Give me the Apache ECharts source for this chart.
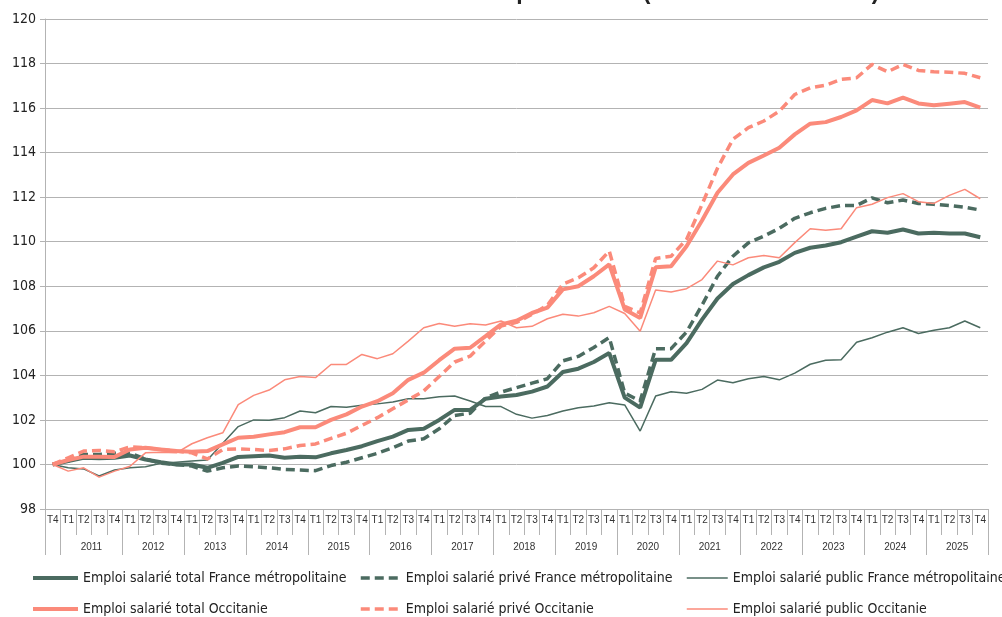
<!DOCTYPE html>
<html><head><meta charset="utf-8">
<script src="https://cdn.jsdelivr.net/npm/echarts@6/dist/echarts.min.js"></script>
<style>html,body{margin:0;padding:0;background:#fff}#c{width:1002px;height:617px}</style>
</head><body><div id="c"></div>
<script>
var titleText = "Évolution trimestrielle de l'emploi salarié (base 100 au T4 2010)";
var quarterLabels = ['T4'];
var yearOfCategory = ['2010'];
var years = ['2011','2012','2013','2014','2015','2016','2017','2018','2019','2020','2021','2022','2023','2024','2025'];
years.forEach(function(y){ ['T1','T2','T3','T4'].forEach(function(q){ quarterLabels.push(q); yearOfCategory.push(y); }); });
var categories = quarterLabels.map(function(q,i){ return q + ' ' + yearOfCategory[i]; });

var seriesNames = [
  'Emploi salarié total France métropolitaine',
  'Emploi salarié privé France métropolitaine',
  'Emploi salarié public France métropolitaine',
  'Emploi salarié total Occitanie',
  'Emploi salarié privé Occitanie',
  'Emploi salarié public Occitanie'
];

var totalFrance = [100,100.15,100.3,100.28,100.3,100.4,100.22,100.1,100.0,100.0,99.85,100.07,100.34,100.37,100.4,100.3,100.35,100.32,100.5,100.65,100.82,101.05,101.25,101.55,101.6,102.0,102.45,102.45,102.95,103.05,103.12,103.27,103.5,104.15,104.3,104.6,105.0,103.0,102.55,104.7,104.7,105.45,106.5,107.45,108.1,108.5,108.85,109.1,109.5,109.73,109.83,109.98,110.23,110.47,110.4,110.55,110.37,110.4,110.37,110.37,110.2];
var priveFrance = [100,100.15,100.45,100.45,100.5,100.5,100.25,100.05,100.0,99.93,99.7,99.85,99.93,99.9,99.85,99.78,99.75,99.72,99.95,100.1,100.3,100.5,100.75,101.05,101.15,101.6,102.2,102.3,103.0,103.25,103.45,103.65,103.85,104.65,104.85,105.25,105.7,103.2,102.85,105.2,105.2,105.95,107.15,108.45,109.35,109.95,110.25,110.6,111.05,111.3,111.5,111.62,111.63,111.97,111.75,111.87,111.72,111.68,111.63,111.55,111.42];
var publicFrance = [100,99.85,99.8,99.48,99.75,99.85,99.9,100.05,100.1,100.15,100.2,100.95,101.7,102.0,101.98,102.1,102.4,102.32,102.6,102.57,102.66,102.72,102.8,102.95,102.95,103.04,103.07,102.85,102.6,102.6,102.25,102.08,102.2,102.4,102.55,102.62,102.77,102.67,101.5,103.07,103.26,103.2,103.37,103.79,103.67,103.85,103.95,103.8,104.1,104.5,104.68,104.7,105.49,105.69,105.94,106.14,105.88,106.03,106.14,106.44,106.14];
var totalOccitanie = [100,100.2,100.35,100.35,100.34,100.67,100.75,100.67,100.6,100.57,100.6,100.9,101.2,101.24,101.35,101.45,101.67,101.67,102.0,102.25,102.6,102.84,103.2,103.8,104.12,104.68,105.2,105.24,105.76,106.29,106.45,106.8,107.04,107.86,108.0,108.45,108.98,106.96,106.58,108.85,108.9,109.8,110.95,112.2,113.02,113.54,113.87,114.22,114.82,115.3,115.37,115.6,115.9,116.36,116.21,116.47,116.21,116.13,116.2,116.27,116.02];
var priveOccitanie = [100,100.3,100.6,100.63,100.57,100.79,100.75,100.67,100.6,100.52,100.25,100.67,100.7,100.67,100.63,100.7,100.85,100.92,101.17,101.4,101.75,102.1,102.5,102.9,103.3,103.95,104.6,104.86,105.54,106.21,106.38,106.74,107.15,108.1,108.38,108.83,109.58,107.1,106.8,109.25,109.35,110.1,111.67,113.3,114.6,115.12,115.42,115.86,116.61,116.91,117.03,117.29,117.36,117.96,117.63,117.96,117.69,117.63,117.61,117.56,117.36];
var publicOccitanie = [100,99.7,99.85,99.43,99.7,99.92,100.52,100.55,100.52,100.93,101.2,101.42,102.69,103.1,103.34,103.8,103.95,103.9,104.49,104.49,104.94,104.75,104.97,105.54,106.14,106.33,106.21,106.32,106.26,106.44,106.14,106.2,106.54,106.74,106.66,106.81,107.1,106.78,105.98,107.83,107.74,107.89,108.3,109.13,108.96,109.28,109.38,109.28,109.96,110.58,110.52,110.58,111.53,111.68,111.98,112.16,111.8,111.72,112.08,112.35,111.93];

var yMin = 98, yMax = 120, yStep = 2;

var GREEN = '#4b6b60', SALMON = '#fb8a7a', GRID = '#b3b3b3';
var NARROW = "'Liberation Sans Narrow','DejaVu Sans Condensed',sans-serif";
var DASH = [9,5];

function mk(name, data, color, width, dash){
  return { name: name, type: 'line', data: data, symbol: 'none', smooth: false,
    lineStyle: { color: color, width: width, type: dash ? DASH : 'solid', cap: 'butt' },
    itemStyle: { color: color }, emphasis: { disabled: true }, animation: false };
}
function lg(name, left, top, w, color, width, dash){
  return { show: true, orient: 'horizontal', left: left, top: top, padding: 0,
    itemWidth: w, itemHeight: 14, data: [name], selectedMode: false,
    lineStyle: { color: color, width: width, type: dash ? DASH : 'solid', cap: 'butt' },
    itemStyle: { color: 'rgba(0,0,0,0)', borderColor: 'rgba(0,0,0,0)', borderWidth: 0, opacity: 0 },
    textStyle: { fontSize: 14, color: '#222', fontFamily: NARROW } };
}

var chart = echarts.init(document.getElementById('c'), null, { renderer: 'canvas' });
chart.setOption({
  animation: false,
  backgroundColor: '#fff',
  title: { text: titleText, left: 190, top: -19, padding: 0, textStyle: { fontSize: 23, fontWeight: 'bold', color: '#222', fontFamily: 'Liberation Sans, Arial, sans-serif' } },
  grid: { left: 45, right: 14, top: 19, bottom: 108, containLabel: false },
  legend: [
    lg(seriesNames[0], 31, 571, 45, GREEN, 4, false),
    lg(seriesNames[1], 359, 571, 40, GREEN, 3.5, true),
    lg(seriesNames[2], 686, 571, 41, GREEN, 1.5, false),
    lg(seriesNames[3], 31, 602, 45, SALMON, 4, false),
    lg(seriesNames[4], 359, 602, 40, SALMON, 3.5, true),
    lg(seriesNames[5], 686, 602, 41, SALMON, 1.5, false)
  ],
  xAxis: [
    { type: 'category', data: categories, boundaryGap: true, position: 'bottom',
      axisLine: { show: true, lineStyle: { color: GRID, width: 1 } },
      axisTick: { show: true, interval: 0, length: 26, lineStyle: { color: GRID } },
      axisLabel: { interval: 0, margin: 6, fontSize: 10, color: '#333', fontFamily: 'Liberation Sans, Arial, sans-serif',
        formatter: function(v, i){ return quarterLabels[i]; } },
      splitLine: { show: false } },
    { type: 'category', data: categories, boundaryGap: true, position: 'bottom',
      axisLine: { show: false },
      axisTick: { show: true, length: 46, lineStyle: { color: GRID },
        interval: function(i){ return i === 0 || i % 4 === 1; } },
      axisLabel: { margin: 33, fontSize: 10, color: '#333', fontFamily: 'Liberation Sans, Arial, sans-serif', padding: [0,0,0,15.5],
        interval: function(i){ return i > 0 && i % 4 === 2; },
        formatter: function(v, i){ return yearOfCategory[i]; } },
      splitLine: { show: false } }
  ],
  yAxis: { type: 'value', min: yMin, max: yMax, interval: yStep,
    axisLine: { show: true, lineStyle: { color: GRID } },
    axisTick: { show: true, length: 5, lineStyle: { color: GRID } },
    axisLabel: { fontSize: 14, color: '#222', margin: 9, fontFamily: NARROW },
    splitLine: { show: true, lineStyle: { color: GRID, width: 1 } } },
  series: [
    mk(seriesNames[0], totalFrance, GREEN, 4, false),
    mk(seriesNames[1], priveFrance, GREEN, 3.5, true),
    mk(seriesNames[2], publicFrance, GREEN, 1.5, false),
    mk(seriesNames[3], totalOccitanie, SALMON, 4, false),
    mk(seriesNames[4], priveOccitanie, SALMON, 3.5, true),
    mk(seriesNames[5], publicOccitanie, SALMON, 1.5, false)
  ]
});
</script></body></html>
